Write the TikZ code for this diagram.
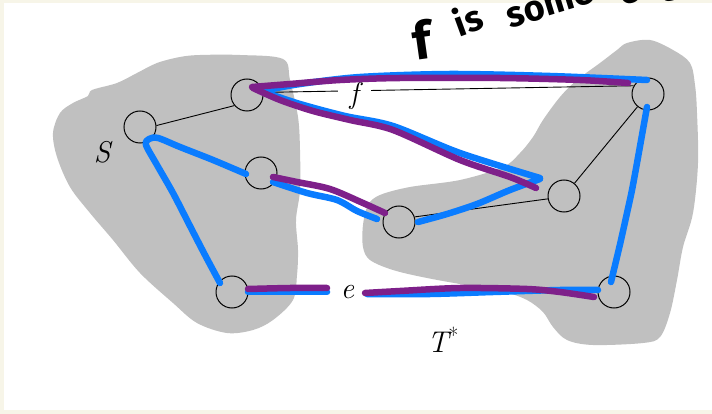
\documentclass[tikz,border=0pt]{standalone}
\usepackage{fontspec}
\newfontfamily\hand{Fira Sans}
\definecolor{cream}{RGB}{247,245,232}
\definecolor{blobgray}{RGB}{192,192,192}
\definecolor{hblue}{RGB}{10,124,255}
\definecolor{hpurp}{RGB}{126,32,138}
\begin{document}
\begin{tikzpicture}[x=1pt,y=-1pt,
  vtx/.style={circle,draw=black,line width=1pt,minimum size=32pt,inner sep=0pt},
  edg/.style={draw=black,line width=0.9pt},
  bst/.style={draw=hblue,line width=6.5pt,line cap=round,line join=round},
  pst/.style={draw=hpurp,line width=6.5pt,line cap=round,line join=round},
  lbl/.style={font=\fontsize{30}{30}\selectfont\itshape,inner sep=0pt},
  hw/.style={font=\hand\bfseries\fontsize{36}{36}\selectfont,inner sep=0pt,text=black},
  blob/.style={fill=blobgray,draw=none}]
% background and frame
\fill[cream] (0,0) rectangle (712,414);
\fill[white] (4,3) rectangle (712,410);
\useasboundingbox (0,0) rectangle (712,414);
% blobs
\path[blob] plot[smooth cycle,tension=0.55] coordinates {
  (200,55) (240,55) (283,59) (290,80) (298,117) (300,150) (300,190) (296,220)
  (298,250) (297,275) (293,300) (273,320) (253,330) (227,333) (197,323) (173,303)
  (140,273) (113,240) (90,213) (70,187) (57,157) (53,133) (60,113) (73,103)
  (88,96) (92,90) (117,83) (137,73) (157,63) (180,57)};
\path[blob] plot[smooth cycle,tension=0.55] coordinates {
  (627,43) (650,40) (673,50) (690,63) (695,85) (697,113) (698,163) (693,213)
  (683,247) (677,280) (670,313) (660,337) (643,343) (593,345) (567,340) (553,327)
  (543,312) (527,300) (505,292) (477,287) (427,278) (393,270) (370,260) (363,247)
  (363,225) (368,205) (380,195) (410,187) (460,180) (503,167) (520,153) (533,137)
  (543,120) (560,97) (577,80) (600,63) (617,50)};
% vertices
\node[vtx] (S) at (140,127) {};
\node[vtx] (A) at (247,95) {};
\node[vtx] (B) at (261,173) {};
\node[vtx] (C) at (232,292) {};
\node[vtx] (D) at (399,222) {};
\node[vtx] (E) at (564,196) {};
\node[vtx] (F) at (648,94) {};
\node[vtx] (G) at (614,292) {};
% black edges
\draw[edg] (S.5) -- (A.220);
\draw[edg] (D.18) -- (E.190);
\draw[edg] (E) -- (F);
\draw[edg] (A.9) -- node[lbl,pos=0.245,fill=white,inner xsep=12pt,inner ysep=2pt,yshift=-5pt] (fl) {f} (F.150);
\draw[edg] (C) -- node[lbl,pos=0.283,fill=white,inner xsep=11pt,inner ysep=2pt] (el) {e} (G);
% labels
\node[lbl] (Sl) at (102,152) {S};
\node[lbl] (Tl) at (443,340) {T\raisebox{9pt}{\upshape\fontsize{22}{22}\selectfont *}};
% blue strokes
\draw[bst] plot[smooth,tension=0.5] coordinates {(220,283) (205,255) (190,226) (173,193) (157,165) (146,145) (149,139) (158,138) (180,147) (213,160) (246,174)};
\draw[bst] plot[smooth,tension=0.5] coordinates {(273,182) (307,193) (337,200) (357,211) (377,219)};
\draw[bst] plot[smooth,tension=0.5] coordinates {(418,222) (447,214) (477,204) (510,190) (540,179)};
\draw[bst] plot[smooth,tension=0.5] coordinates {(264,92) (300,104) (345,116) (393,126) (460,153) (540,178)};
\draw[bst] plot[smooth,tension=0.5] coordinates {(262,91) (300,84) (360,77) (450,74) (550,76) (647,80)};
\draw[bst] plot[smooth,tension=0.5] coordinates {(248,292) (290,292) (327,292)};
\draw[bst] plot[smooth,tension=0.5] coordinates {(367,294) (430,294) (493,292) (560,290) (598,290)};
\draw[bst] plot[smooth,tension=0.5] coordinates {(647,107) (642,135) (637,163) (632,190) (627,213) (621,240) (617,257) (611,282)};
% purple strokes
\draw[pst] plot[smooth,tension=0.5] coordinates {(252,87) (290,84) (340,80) (400,78) (500,78) (580,80) (628,83)};
\draw[pst] plot[smooth,tension=0.5] coordinates {(253,88) (280,100) (313,111) (350,120) (393,130) (460,160) (510,177) (536,188)};
\draw[pst] plot[smooth,tension=0.5] coordinates {(273,177) (297,182) (330,189) (363,203) (385,213)};
\draw[pst] plot[smooth,tension=0.5] coordinates {(248,289) (290,288) (327,288)};
\draw[pst] plot[smooth,tension=0.5] coordinates {(365,293) (400,291) (460,288) (527,289) (560,292) (594,297)};
% handwritten note
\node[hw,font=\hand\bfseries\fontsize{52}{52}\selectfont,rotate=8] (w1) at (422,40) {f};
\node[hw,rotate=20] (w2) at (468,19) {is};
\node[hw,rotate=17] (w3) at (550,6) {some};
\node[hw,rotate=15,anchor=base west] (w4) at (622,6) {edge};
\end{tikzpicture}
\end{document}
